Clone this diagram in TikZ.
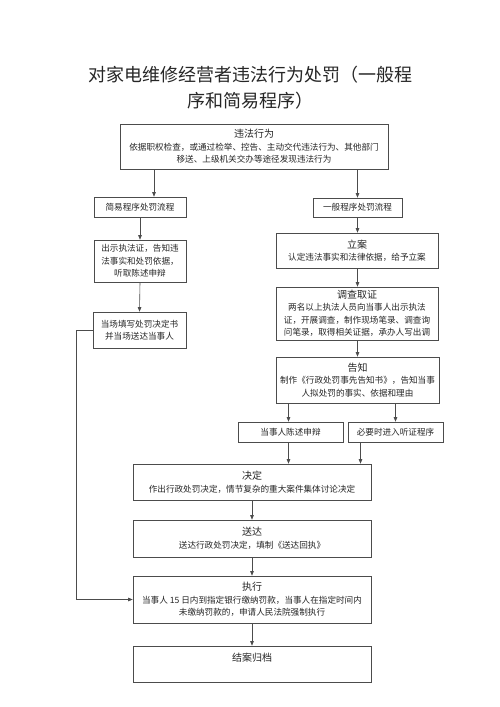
\documentclass[tikz,border=0pt]{standalone}
\usepackage{fontspec}
\setmainfont{Noto Sans CJK SC}
\usepackage{tikz}
\usetikzlibrary{arrows.meta,calc}
\definecolor{line}{gray}{0.3}
\definecolor{ink}{gray}{0.15}
\tikzset{
  block/.style = {draw=line, line width=0.6pt, text=ink, align=center, inner sep=1pt,
                  font=\fontsize{8.6}{12.5}\selectfont},
  arr/.style = {-{Triangle[length=4.5pt,width=3.5pt]}, draw=line, line width=0.6pt},
  head/.style = {font=\fontsize{10}{12.5}\selectfont}
}
\newcommand{\hd}[1]{{\fontsize{10}{12.5}\selectfont #1}}
\begin{document}
\begin{tikzpicture}[x=1pt,y=-1pt]
\useasboundingbox[fill=white] (0,0) rectangle (500,707);
\node[text=ink, align=center, font=\fontsize{18}{26}\selectfont] (title) at (250,88)
  {对家电维修经营者违法行为处罚（一般程\\序和简易程序）};
% top
\node[block, minimum width=268pt, minimum height=45pt] (top) at (254,146.5)
  {\hd{违法行为}\\依据职权检查，或通过检举、控告、主动交代违法行为、其他部门\\移送、上级机关交办等途径发现违法行为};
% simple procedure
\node[block, minimum width=92pt, minimum height=20pt] (simple) at (140,207) {简易程序处罚流程};
\node[block, minimum width=92pt, minimum height=42pt] (show) at (140,261)
  {出示执法证，告知违\\法事实和处罚依据，\\听取陈述申辩};
\node[block, minimum width=93pt, minimum height=36pt] (fill) at (139.5,330)
  {当场填写处罚决定书\\并当场送达当事人};
% general procedure
\node[block, minimum width=89pt, minimum height=19pt] (general) at (357.5,207.5) {一般程序处罚流程};
\node[block, minimum width=162pt, minimum height=35pt] (filing) at (357,250.5)
  {\hd{立案}\\认定违法事实和法律依据，给予立案};
\node[block, minimum width=162pt, minimum height=53pt] (survey) at (357,313.5)
  {\hd{调查取证}\\两名以上执法人员向当事人出示执法\\证，开展调查，制作现场笔录、调查询\\问笔录，取得相关证据，承办人写出调};
\node[block, minimum width=163pt, minimum height=46pt] (notify) at (357.5,380)
  {\hd{告知}\\制作《行政处罚事先告知书》，告知当事\\人拟处罚的事实、依据和理由};
\node[block, minimum width=105pt, minimum height=20pt] (defend) at (290.5,432) {当事人陈述申辩};
\node[block, minimum width=95pt, minimum height=20pt] (hearing) at (395.5,432) {必要时进入听证程序};
% common part
\node[block, minimum width=238pt, minimum height=36pt] (decide) at (252,482)
  {\hd{决定}\\作出行政处罚决定，情节复杂的重大案件集体讨论决定};
\node[block, minimum width=238pt, minimum height=37pt] (deliver) at (252,538.5)
  {\hd{送达}\\送达行政处罚决定，填制《送达回执》};
\node[block, minimum width=238pt, minimum height=47pt] (execute) at (252,599.5)
  {\hd{执行}\\当事人 15 日内到指定银行缴纳罚款，当事人在指定时间内\\未缴纳罚款的，申请人民法院强制执行};
\node[block, minimum width=238pt, minimum height=36pt] (archive) at (252,664)
  {\hd{结案归档}\\~};
% arrows
\draw[arr] ([xshift=14pt]simple.north |- top.south) -- ([xshift=14pt]simple.north);
\draw[arr] (general.north |- top.south) -- (general.north);
\draw[arr] (simple.south) -- (show.north);
\draw[arr] (show.south) -- (fill.north);
\draw[arr] (general.south) -- (general.south |- filing.north);
\draw[arr] (general.south |- filing.south) -- (general.south |- survey.north);
\draw[arr] (general.south |- survey.south) -- (general.south |- notify.north);
\draw[arr] ([xshift=-2pt]defend.north |- notify.south) -- ([xshift=-2pt]defend.north);
\draw[arr] (hearing.north |- notify.south) -- (hearing.north);
\draw[arr] ([xshift=-2pt]defend.south) -- ([xshift=-2pt]defend.south |- decide.north);
\draw[arr] ([xshift=-35pt]hearing.south) -- ([xshift=-35pt]hearing.south |- decide.north);
\draw[arr] (decide.south) -- (deliver.north);
\draw[arr] (deliver.south) -- (execute.north);
\draw[arr] (execute.south) -- (archive.north);
\draw[arr] (fill.west) -- ++(-16,0) |- (execute.west);
\end{tikzpicture}
\end{document}
